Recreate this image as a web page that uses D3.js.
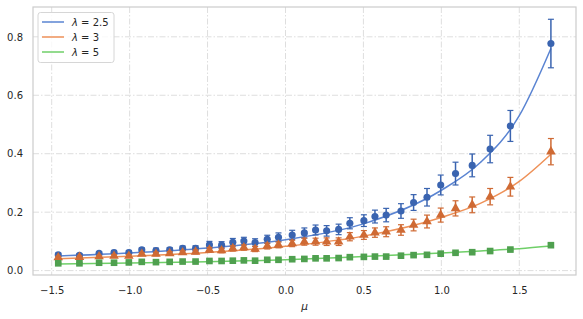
<!DOCTYPE html>
<html>
<head>
<meta charset="utf-8">
<script src="https://cdn.jsdelivr.net/npm/d3@7"></script>
<style>
  body { margin: 0; background: #fff; }
  svg { font-family: "DejaVu Sans", sans-serif; }
</style>
</head>
<body>
<div id="chart"></div>
<script>
// marker positions (mu) and measured values per lambda
const mu = [-1.458,-1.322,-1.196,-1.100,-1.005,-0.922,-0.831,-0.743,-0.660,-0.577,-0.488,-0.410,-0.338,-0.267,-0.195,-0.117,-0.045,0.043,0.121,0.193,0.264,0.341,0.413,0.503,0.574,0.646,0.741,0.822,0.908,0.996,1.091,1.198,1.313,1.443,1.703];

const blue = [0.054,0.052,0.059,0.062,0.062,0.071,0.069,0.071,0.076,0.076,0.088,0.087,0.097,0.101,0.096,0.107,0.114,0.122,0.129,0.139,0.136,0.141,0.162,0.171,0.185,0.190,0.204,0.233,0.251,0.293,0.332,0.360,0.416,0.495,0.777];
const blueErr = [0.006,0.006,0.006,0.007,0.007,0.007,0.008,0.008,0.008,0.009,0.012,0.012,0.013,0.013,0.013,0.014,0.015,0.016,0.017,0.017,0.018,0.018,0.019,0.020,0.022,0.023,0.025,0.027,0.030,0.034,0.039,0.039,0.047,0.053,0.083];

const orange = [0.045,0.046,0.048,0.050,0.050,0.057,0.057,0.059,0.062,0.064,0.071,0.069,0.076,0.079,0.074,0.084,0.088,0.093,0.099,0.099,0.099,0.099,0.116,0.122,0.130,0.133,0.139,0.156,0.168,0.190,0.213,0.225,0.253,0.287,0.407];
const orangeErr = [0.004,0.004,0.004,0.005,0.005,0.005,0.006,0.006,0.006,0.007,0.008,0.008,0.009,0.009,0.009,0.010,0.010,0.011,0.012,0.012,0.013,0.013,0.014,0.015,0.016,0.017,0.018,0.020,0.022,0.024,0.026,0.027,0.028,0.032,0.045];

const green = [0.025,0.025,0.027,0.027,0.028,0.030,0.029,0.030,0.031,0.031,0.033,0.033,0.034,0.035,0.034,0.037,0.037,0.039,0.040,0.042,0.042,0.043,0.046,0.047,0.048,0.048,0.051,0.053,0.054,0.058,0.061,0.063,0.067,0.072,0.087];
const greenErr = [0.002,0.002,0.002,0.002,0.002,0.002,0.002,0.002,0.002,0.002,0.002,0.002,0.002,0.002,0.002,0.003,0.003,0.003,0.003,0.003,0.003,0.003,0.003,0.003,0.003,0.003,0.003,0.003,0.003,0.003,0.003,0.003,0.004,0.004,0.005];

// fitted curves
const fitMu = [-1.458,-1.0,-0.5,0.0,0.5,1.0,1.25,1.5,1.703];
const fitBlue = [0.050,0.060,0.077,0.106,0.160,0.275,0.370,0.530,0.760];
const fitOrange = [0.041,0.049,0.062,0.083,0.118,0.182,0.230,0.305,0.398];
const fitGreen = [0.023,0.026,0.030,0.037,0.048,0.060,0.067,0.075,0.084];

const xTicks = [-1.5,-1.0,-0.5,0.0,0.5,1.0,1.5];
const yTicks = [0.0,0.2,0.4,0.6,0.8];

const series = [
  {label:'2.5', vals:blue, err:blueErr, fit:fitBlue, line:'#5a84d2', mark:'#3a64b0', shape:d3.symbolCircle, size:40},
  {label:'3', vals:orange, err:orangeErr, fit:fitOrange, line:'#ee9158', mark:'#cf6a34', shape:d3.symbolTriangle, size:40},
  {label:'5', vals:green, err:greenErr, fit:fitGreen, line:'#6fcf68', mark:'#4fa04f', shape:d3.symbolSquare, size:44}
];

const width = 583, height = 319;
const margin = {top:7, right:7, bottom:44, left:33};

const svg = d3.select('#chart').append('svg')
  .attr('width', width)
  .attr('height', height);

const x = d3.scaleLinear().domain([-1.620, 1.864]).range([margin.left, width - margin.right]);
const y = d3.scaleLinear().domain([-0.015, 0.902]).range([height - margin.bottom, margin.top]);

// grid
const grid = svg.append('g');
grid.selectAll('line.gx').data(xTicks).join('line')
  .attr('x1', d => x(d)).attr('x2', d => x(d))
  .attr('y1', margin.top).attr('y2', height - margin.bottom)
  .attr('stroke', '#dedede').attr('stroke-width', 1).attr('stroke-dasharray', '6,2,1.5,2');
grid.selectAll('line.gy').data(yTicks).join('line')
  .attr('y1', d => y(d)).attr('y2', d => y(d))
  .attr('x1', margin.left).attr('x2', width - margin.right)
  .attr('stroke', '#dedede').attr('stroke-width', 1).attr('stroke-dasharray', '6,2,1.5,2');

// axes (no tick marks, just labels)
const fmt = d => d3.format('.1f')(d).replace('-', '\u2212');
svg.append('g')
  .attr('transform', `translate(0,${height - margin.bottom})`)
  .call(d3.axisBottom(x).tickValues(xTicks).tickFormat(fmt).tickSize(0).tickPadding(12))
  .call(g => g.select('.domain').remove())
  .call(g => g.selectAll('text').attr('fill', '#262626').attr('font-size', 10).attr('font-family', 'DejaVu Sans'));

svg.append('g')
  .attr('transform', `translate(${margin.left},0)`)
  .call(d3.axisLeft(y).tickValues(yTicks).tickFormat(fmt).tickSize(0).tickPadding(10))
  .call(g => g.select('.domain').remove())
  .call(g => g.selectAll('text').attr('fill', '#262626').attr('font-size', 10).attr('font-family', 'DejaVu Sans'));

svg.append('text')
  .attr('x', (margin.left + width - margin.right) / 2)
  .attr('y', 310)
  .attr('text-anchor', 'middle')
  .attr('font-size', 10.5)
  .attr('font-style', 'italic')
  .attr('fill', '#262626')
  .text('\u03bc');

// fitted lines
const line = d3.line().x(d => x(d[0])).y(d => y(d[1])).curve(d3.curveMonotoneX);
series.forEach(s => {
  svg.append('path')
    .datum(fitMu.map((m, i) => [m, s.fit[i]]))
    .attr('fill', 'none')
    .attr('stroke', s.line)
    .attr('stroke-width', 1.5)
    .attr('d', line);
});

// error bars + markers
series.forEach(s => {
  const g = svg.append('g').attr('stroke', s.mark).attr('fill', s.mark);
  const pts = mu.map((m, i) => ({m, v:s.vals[i], e:s.err[i]}));
  g.selectAll('line.eb').data(pts).join('line')
    .attr('x1', d => x(d.m)).attr('x2', d => x(d.m))
    .attr('y1', d => y(d.v - d.e)).attr('y2', d => y(d.v + d.e))
    .attr('stroke-width', 1.5);
  [-1, 1].forEach(sg => {
    g.selectAll(null).data(pts).join('line')
      .attr('x1', d => x(d.m) - 3).attr('x2', d => x(d.m) + 3)
      .attr('y1', d => y(d.v + sg * d.e)).attr('y2', d => y(d.v + sg * d.e))
      .attr('stroke-width', 1.2);
  });
  g.selectAll('path').data(pts).join('path')
    .attr('d', d3.symbol().type(s.shape).size(s.size))
    .attr('stroke', 'none')
    .attr('transform', d => `translate(${x(d.m)},${y(d.v)})`);
});

// frame
svg.append('rect')
  .attr('x', margin.left).attr('y', margin.top)
  .attr('width', width - margin.left - margin.right)
  .attr('height', height - margin.top - margin.bottom)
  .attr('fill', 'none').attr('stroke', '#cccccc').attr('stroke-width', 1.2);

// legend
const lg = svg.append('g').attr('transform', 'translate(38,12.5)');
lg.append('rect')
  .attr('width', 76).attr('height', 50).attr('rx', 2.5)
  .attr('fill', '#fff').attr('fill-opacity', 0.8)
  .attr('stroke', '#d6d6d6').attr('stroke-width', 1);
series.forEach((s, i) => {
  const yy = 9.5 + i * 15;
  lg.append('line').attr('x1', 4).attr('x2', 26).attr('y1', yy).attr('y2', yy)
    .attr('stroke', s.line).attr('stroke-width', 1.5);
  const t = lg.append('text').attr('x', 34).attr('y', yy + 3.6)
    .attr('font-size', 10).attr('fill', '#262626');
  t.append('tspan').attr('font-style', 'italic').text('\u03bb');
  t.append('tspan').text(' = ' + s.label);
});
</script>
</body>
</html>
